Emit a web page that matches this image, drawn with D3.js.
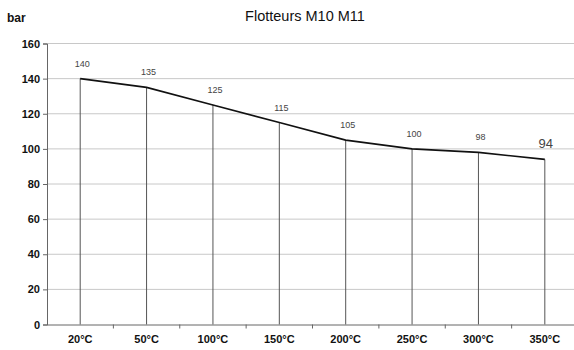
<!DOCTYPE html>
<html><head><meta charset="utf-8">
<script src="https://cdn.jsdelivr.net/npm/d3@7"></script>
<style>body{margin:0;background:#fff}svg{display:block}text{font-family:"Liberation Sans",Arial,sans-serif}</style>
</head><body><svg id="c" width="574" height="350"></svg>
<script>
const categories = ["20°C","50°C","100°C","150°C","200°C","250°C","300°C","350°C"];
const values = [140,135,125,115,105,100,98,94];
const yTicks = [0,20,40,60,80,100,120,140,160];
const title = "Flotteurs M10 M11";
const yLabel = "bar";

const svg = d3.select("#c");
const pLeft = 47, pRight = 578, pTop = 43.5, pBottom = 324.5;
const x = d3.scaleBand().domain(categories).range([pLeft, pRight]);
const y = d3.scaleLinear().domain([0,160]).range([pBottom, pTop]);
const cx = c => x(c) + x.bandwidth()/2;

// gridlines
svg.append("g").selectAll("line").data(yTicks.filter(d=>d>0)).join("line")
  .attr("x1", pLeft).attr("x2", 574).attr("y1", d=>y(d)).attr("y2", d=>y(d))
  .attr("stroke", "#c8c8c8").attr("stroke-width", 1);

// drop lines
svg.append("g").selectAll("line").data(categories).join("line")
  .attr("x1", d=>cx(d)).attr("x2", d=>cx(d))
  .attr("y1", (d,i)=>y(values[i])).attr("y2", pBottom)
  .attr("stroke", "#555").attr("stroke-width", 1);

// y axis
const ya = svg.append("g").attr("transform", `translate(${pLeft},0)`)
  .call(d3.axisLeft(y).tickValues(yTicks).tickSize(4).tickPadding(3));
ya.select(".domain").attr("stroke", "#666");
ya.selectAll(".tick line").attr("stroke", "#666");
ya.selectAll("text").attr("font-size", 11).attr("font-weight", "bold").attr("fill", "#111")
  .attr("font-family", '"Liberation Sans",Arial,sans-serif');

// x axis
const xa = svg.append("g").attr("transform", `translate(0,${pBottom})`)
  .call(d3.axisBottom(x).tickSize(0).tickPadding(11));
xa.select(".domain").attr("stroke", "#666").attr("d", `M${pLeft},0.5H574`);
xa.selectAll("text").attr("font-size", 11).attr("font-weight", "bold").attr("fill", "#111")
  .attr("font-family", '"Liberation Sans",Arial,sans-serif');
// boundary ticks
svg.append("g").selectAll("line").data(categories.slice(1)).join("line")
  .attr("x1", d=>x(d)).attr("x2", d=>x(d)).attr("y1", pBottom).attr("y2", pBottom+4)
  .attr("stroke", "#666");

// line
svg.append("path").datum(values)
  .attr("d", d3.line().x((d,i)=>cx(categories[i])).y(d=>y(d)))
  .attr("fill", "none").attr("stroke", "#111").attr("stroke-width", 1.6);

// data labels
svg.append("g").selectAll("text").data(values).join("text")
  .attr("x", (d,i)=>cx(categories[i]) + (i===values.length-1 ? 1 : 2))
  .attr("y", (d,i)=>y(d) - (i===values.length-1 ? 11 : 12))
  .attr("text-anchor", "middle")
  .attr("font-size", (d,i)=> i===values.length-1 ? 13 : 9)
  .attr("fill", "#444")
  .text(d=>d);

// title
svg.append("text").attr("x", 305).attr("y", 21).attr("text-anchor", "middle")
  .attr("font-size", 14.5).attr("fill", "#111").text(title);
svg.append("text").attr("x", 7).attr("y", 22)
  .attr("font-size", 12).attr("font-weight", "bold").attr("fill", "#111").text(yLabel);
</script></body></html>
